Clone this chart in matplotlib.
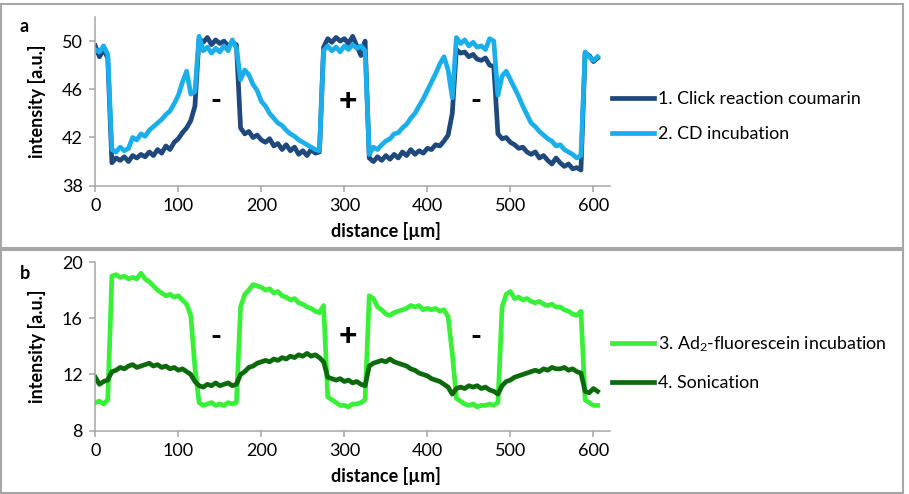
import matplotlib
matplotlib.use("Agg")
import matplotlib.pyplot as plt
from matplotlib.patches import Rectangle
import numpy as np

plt.rcParams['font.family'] = ['Lato', 'DejaVu Sans']
plt.rcParams['mathtext.fontset'] = 'custom'
plt.rcParams['mathtext.rm'] = 'Lato'
plt.rcParams['mathtext.it'] = 'Lato:italic'
plt.rcParams['mathtext.bf'] = 'Lato:bold'

# ---------------- data ----------------
distance = list(range(0, 610, 5))  # µm

click_coumarin = [
    49.6, 48.7, 49.3, 48.6, 39.9, 40.3, 40.1, 40.4, 40.0, 40.5,
    40.3, 40.6, 40.4, 40.8, 40.5, 41.0, 40.7, 41.3, 41.0, 41.6,
    41.9, 42.4, 42.8, 43.4, 44.6, 50.2, 49.9, 50.3, 49.7, 50.1,
    49.8, 50.0, 49.6, 49.9, 49.7, 42.8, 42.3, 42.5, 42.0, 42.2,
    41.8, 41.6, 41.9, 41.3, 41.5, 41.0, 41.4, 40.9, 41.2, 40.6,
    40.9, 40.5, 41.0, 40.7, 40.8, 49.5, 50.2, 49.9, 50.3, 50.0,
    50.2, 49.8, 50.4, 49.6, 48.8, 50.0, 40.3, 40.0, 40.4, 40.1,
    40.5, 40.2, 40.6, 40.3, 40.8, 40.5, 41.0, 40.6, 40.9, 40.7,
    41.1, 41.0, 41.4, 41.3, 41.7, 42.2, 44.0, 49.3, 49.0, 49.1,
    48.7, 48.9, 48.5, 48.4, 48.6, 48.0, 47.9, 42.3, 41.9, 42.0,
    41.6, 41.4, 41.1, 41.2, 40.8, 40.6, 40.8, 40.3, 40.5, 40.1,
    39.8, 40.3, 39.9, 39.6, 39.8, 39.4, 39.5, 39.3, 49.0, 48.8,
    48.3, 48.6,
]

cd_incubation = [
    49.3, 49.1, 49.6, 48.9, 41.0, 40.8, 41.2, 40.9, 41.1, 42.0,
    41.8, 42.3, 42.1, 42.6, 42.9, 43.2, 43.5, 43.9, 44.2, 44.8,
    45.5, 46.6, 47.5, 45.6, 45.8, 50.4, 49.2, 49.5, 49.0, 49.4,
    49.1, 49.6, 49.2, 50.1, 49.4, 46.8, 47.6, 47.2, 46.4, 45.9,
    45.0, 44.6, 44.0, 43.6, 43.2, 43.0, 42.6, 42.3, 42.1, 41.8,
    41.6, 41.4, 41.2, 41.0, 40.9, 49.2, 49.6, 49.2, 49.5, 49.1,
    49.6, 49.3, 49.7, 49.4, 49.6, 49.2, 40.6, 41.2, 41.0, 41.4,
    41.7, 41.9, 42.3, 42.4, 42.8, 43.1, 43.6, 44.0, 44.6, 45.2,
    45.9, 46.6, 47.3, 48.1, 48.7, 47.6, 45.3, 50.3, 49.8, 50.1,
    49.6, 49.9, 49.5, 49.6, 49.3, 50.2, 50.0, 45.5, 47.1, 47.5,
    46.8, 46.1, 45.4, 44.6, 43.9, 43.2, 42.9, 42.5, 42.2, 41.9,
    41.7, 41.3, 41.4, 41.0, 40.8, 40.6, 40.3, 40.5, 49.1, 48.7,
    48.4, 48.7,
]

ad2_fluorescein = [
    10.0, 10.1, 9.9, 10.2, 19.0, 19.1, 18.9, 19.0, 18.8, 18.9,
    18.8, 19.2, 18.8, 18.6, 18.3, 18.0, 17.8, 17.6, 17.7, 17.5,
    17.6, 17.3, 17.0, 16.2, 12.5, 10.0, 9.8, 9.9, 10.0, 9.8,
    9.9, 9.8, 10.0, 9.9, 10.0, 16.8, 17.7, 18.0, 18.4, 18.3,
    18.2, 18.0, 18.1, 17.8, 17.9, 17.6, 17.5, 17.3, 17.4, 17.1,
    17.0, 16.8, 16.7, 16.5, 16.4, 16.9, 10.4, 10.2, 10.0, 9.8,
    9.8, 9.7, 9.9, 9.9, 10.0, 10.2, 17.6, 17.4, 16.8, 16.6,
    16.3, 16.2, 16.4, 16.5, 16.6, 16.7, 16.9, 16.8, 16.9, 16.6,
    16.7, 16.6, 16.7, 16.5, 16.6, 16.1, 13.5, 10.3, 10.1, 9.9,
    9.8, 9.9, 9.7, 9.8, 9.8, 9.9, 9.8, 10.0, 16.8, 17.7,
    17.9, 17.4, 17.5, 17.3, 17.4, 17.2, 17.1, 17.2, 17.0, 16.9,
    17.0, 16.8, 16.8, 16.6, 16.5, 16.3, 16.2, 16.5, 10.2, 10.0,
    9.8, 9.8,
]

sonication = [
    11.8, 11.3, 11.5, 11.6, 12.2, 12.3, 12.5, 12.4, 12.6, 12.7,
    12.5, 12.6, 12.7, 12.8, 12.6, 12.7, 12.5, 12.6, 12.4, 12.5,
    12.3, 12.4, 12.2, 12.0, 11.5, 11.2, 11.1, 11.3, 11.2, 11.4,
    11.2, 11.3, 11.4, 11.2, 11.3, 12.0, 12.2, 12.5, 12.6, 12.8,
    12.9, 13.0, 12.9, 13.1, 13.0, 13.2, 13.1, 13.3, 13.2, 13.4,
    13.3, 13.5, 13.3, 13.4, 13.2, 12.9, 11.8, 11.7, 11.6, 11.7,
    11.5, 11.6, 11.4, 11.5, 11.3, 11.2, 12.6, 12.8, 12.9, 13.0,
    12.9, 13.1, 12.9, 12.8, 12.7, 12.6, 12.4, 12.3, 12.1, 12.0,
    11.9, 11.7, 11.6, 11.5, 11.3, 11.1, 10.6, 11.0, 11.1, 11.0,
    11.2, 11.1, 11.2, 11.0, 11.1, 10.9, 10.8, 10.6, 11.2, 11.5,
    11.6, 11.8, 11.9, 12.0, 12.1, 12.2, 12.3, 12.2, 12.4, 12.3,
    12.5, 12.4, 12.4, 12.5, 12.3, 12.4, 12.2, 12.1, 10.8, 10.7,
    11.0, 10.8,
]

labels_a = ["1. Click reaction coumarin", "2. CD incubation"]
labels_b = ["3. Ad$_\\mathregular{2}$-fluorescein incubation", "4. Sonication"]
xticks = [0, 100, 200, 300, 400, 500, 600]
yticks_a = [38, 42, 46, 50]
yticks_b = [8, 12, 16, 20]
signs = ["-", "+", "-"]
sign_x = [145, 304, 458]

# ---------------- figure ----------------
W, H = 909, 494
fig = plt.figure(figsize=(W / 100, H / 100), dpi=100)

def fx(px):
    return px / W

def fy(py):
    return 1 - py / H

ax_left, ax_right = 95.3, 610
axa = fig.add_axes([fx(ax_left), fy(185.7), fx(ax_right - ax_left), (185.7 - 17) / H])
axb = fig.add_axes([fx(ax_left), fy(430.7), fx(ax_right - ax_left), (430.7 - 262) / H])

c1, c2 = "#1F487C", "#1AAFEA"
c3, c4 = "#38F038", "#0C6A0C"
lw = 3.4
grey = "#A6A6A6"

axa.plot(distance, click_coumarin, color=c1, lw=lw, label=labels_a[0], solid_joinstyle='round')
axa.plot(distance, cd_incubation, color=c2, lw=lw, label=labels_a[1], solid_joinstyle='round')
axb.plot(distance, ad2_fluorescein, color=c3, lw=lw, label=labels_b[0], solid_joinstyle='round')
axb.plot(distance, sonication, color=c4, lw=lw, label=labels_b[1], solid_joinstyle='round')

axa.set_ylim(38, 52)
axb.set_ylim(8, 20)
for ax, yt, ysign in ((axa, yticks_a, 45.0), (axb, yticks_b, 14.7)):
    ax.set_xlim(0, 620)
    ax.set_xticks(xticks)
    ax.set_yticks(yt)
    for s in ("top", "right"):
        ax.spines[s].set_visible(False)
    for s in ("left", "bottom"):
        ax.spines[s].set_color(grey)
        ax.spines[s].set_linewidth(1.1)
    ax.tick_params(axis="both", direction="out", length=4, width=1.1, color=grey,
                   labelsize=13, labelcolor="#000000", pad=5)
    ax.set_xlabel("distance [µm]", fontsize=13, fontweight="bold")
    ax.set_ylabel("intensity [a.u.]", fontsize=13, fontweight="bold")
    ax.xaxis.set_label_coords((385.6 - ax_left) / (ax_right - ax_left), -0.215)
    ax.yaxis.set_label_coords(-0.095, 0.5)
    for sx, sg in zip(sign_x, signs):
        ax.text(sx, ysign, sg, ha="center", va="center", fontsize=23 if sg == "+" else 21,
                fontweight="black", color="black")

leg_kw = dict(loc="center left", frameon=False, fontsize=12.8, handlelength=2.4,
              handletextpad=0.2, borderpad=0, borderaxespad=0,
              bbox_transform=fig.transFigure)
axa.legend(bbox_to_anchor=(fx(611.7), fy(116.5)), labelspacing=1.05, **leg_kw)
axb.legend(bbox_to_anchor=(fx(611.7), fy(362.8)), labelspacing=1.2, **leg_kw)

fig.text(fx(20), fy(27), "a", fontsize=13, fontweight="bold", ha="left", va="center")
fig.text(fx(20), fy(273), "b", fontsize=13, fontweight="bold", ha="left", va="center")

# panel frames
for y0, y1 in ((4, 248), (250, 493)):
    fig.add_artist(Rectangle((fx(1), fy(y1)), fx(902), (y1 - y0) / H,
                             transform=fig.transFigure, fill=False,
                             edgecolor=grey, linewidth=1.5))

fig.savefig("out.png", dpi=100)
